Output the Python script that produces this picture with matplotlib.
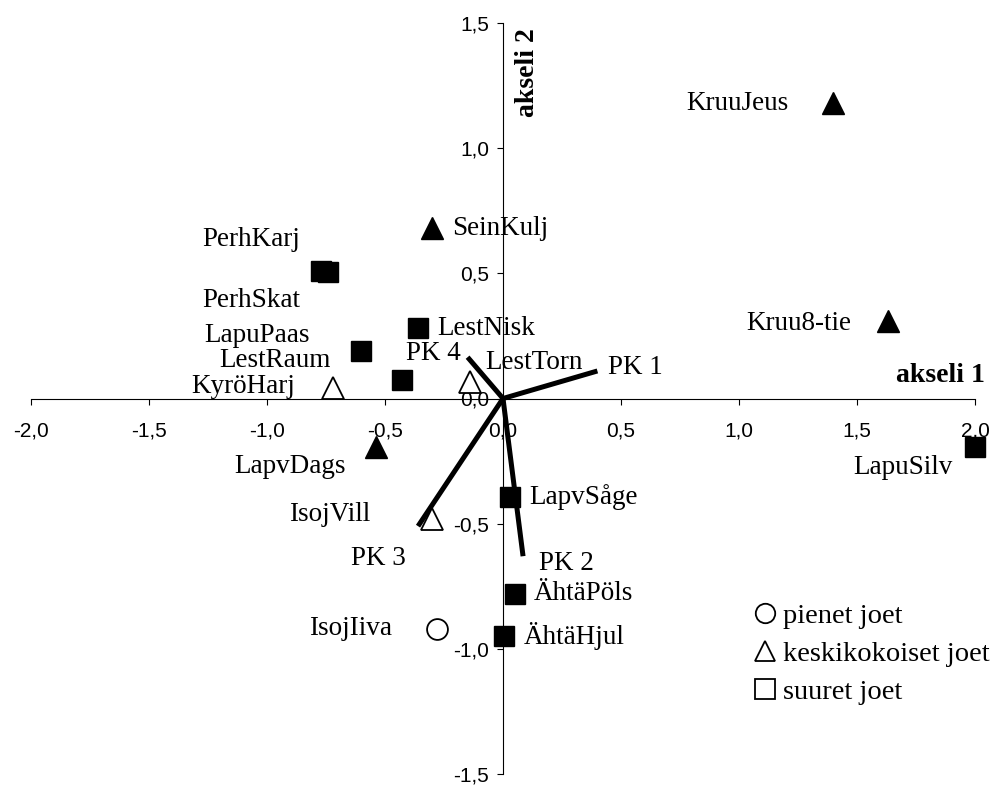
import numpy as np
import matplotlib.pyplot as plt
from matplotlib.lines import Line2D
from matplotlib.ticker import FuncFormatter

# paikat (akseli 1, akseli 2) ja jokikoko
nimet = ["KruuJeus", "Kruu8-tie", "LapuSilv", "SeinKulj", "PerhKarj", "PerhSkat",
         "LapuPaas", "LestRaum", "KyröHarj", "LestNisk", "LestTorn", "LapvDags",
         "IsojVill", "LapvSåge", "ÄhtäPöls", "ÄhtäHjul", "IsojIiva"]
ax1 = [1.40, 1.63, 2.00, -0.30, -0.77, -0.74,
       -0.60, -0.43, -0.72, -0.36, -0.14, -0.54,
       -0.30, 0.03, 0.05, 0.005, -0.28]
ax2 = [1.18, 0.31, -0.195, 0.68, 0.51, 0.505,
       0.19, 0.075, 0.04, 0.28, 0.065, -0.195,
       -0.48, -0.395, -0.78, -0.95, -0.92]
koko = ["keski", "keski", "suuri", "keski", "suuri", "suuri",
        "suuri", "suuri", "keski_o", "suuri", "keski_o", "keski",
        "keski_o", "suuri", "suuri", "suuri", "pieni"]

# paakomponentit
pk_nimet = ["PK 1", "PK 2", "PK 3", "PK 4"]
pk_x = [0.40, 0.085, -0.36, -0.15]
pk_y = [0.11, -0.63, -0.51, 0.165]

# tekstien siirrot pikseleina (dx, dy, ha)
siirto = [(-45, 0, "right"), (-36, -3, "right"), (-72, -20, "center"), (20, 0, "left"),
          (-70, 31, "center"), (-77, -28, "center"), (-52, 15, "right"), (-71, 19, "right"),
          (-38, 2, "right"), (19, 0, "left"), (15, 20, "left"), (-86, -19, "center"),
          (-62, 4, "right"), (19, 0, "left"), (19, 0, "left"), (20, 0, "left"),
          (-45, 0, "right")]
pk_siirto = [(11, 3, "left"), (43, -7, "center"), (-40, -32, "center"), (-7, 4, "right")]

tyyli = {"suuri": dict(marker="s", ms=15, mfc="black", mec="black"),
         "keski": dict(marker="^", ms=16, mfc="black", mec="black"),
         "keski_o": dict(marker="^", ms=16, mfc="white", mec="black", mew=1.3),
         "pieni": dict(marker="o", ms=15, mfc="white", mec="black", mew=1.3)}

serif = "Liberation Serif"
sans = "Liberation Sans"

fig = plt.figure(figsize=(9.95, 7.85), dpi=100)
ax = fig.add_axes([31/995, 11/785, 944/995, 751/785])
ax.set_xlim(-2.0, 2.0)
ax.set_ylim(-1.5, 1.5)

# vektorit
for i in range(len(pk_nimet)):
    ax.plot([0, pk_x[i]], [0, pk_y[i]], color="black", lw=3.6, solid_capstyle="butt", zorder=2)
    dx, dy, ha = pk_siirto[i]
    ax.annotate(pk_nimet[i], (pk_x[i], pk_y[i]), xytext=(dx, dy), textcoords="offset pixels",
                ha=ha, va="center", fontsize=19.5, family=serif)

# pisteet
for i in range(len(nimet)):
    ax.plot(ax1[i], ax2[i], ls="none", zorder=3, clip_on=False, **tyyli[koko[i]])
    dx, dy, ha = siirto[i]
    ax.annotate(nimet[i], (ax1[i], ax2[i]), xytext=(dx, dy), textcoords="offset pixels",
                ha=ha, va="center", fontsize=19.5, family=serif)

# akselit keskelle
ax.spines["top"].set_visible(False)
ax.spines["right"].set_visible(False)
ax.spines["left"].set_position(("data", 0))
ax.spines["bottom"].set_position(("data", 0))
ax.set_xticks(np.arange(-2.0, 2.01, 0.5))
ax.set_yticks(np.arange(-1.5, 1.51, 0.5))
fmt = FuncFormatter(lambda v, p: f"{v:.1f}".replace(".", ",").replace("-0,0", "0,0"))
ax.xaxis.set_major_formatter(fmt)
ax.yaxis.set_major_formatter(fmt)
ax.tick_params(axis="x", direction="out", length=4.5, pad=12, labelsize=15, width=0.8)
ax.tick_params(axis="y", direction="out", length=4, pad=6, labelsize=15, width=0.8)
for t in ax.get_xticklabels() + ax.get_yticklabels():
    t.set_family(sans)

fig.text(985/995, 1 - 375/785, "akseli 1", ha="right", va="center", fontsize=20,
         fontweight="bold", family=serif)
fig.text(527/995, 1 - 73/785, "akseli 2", ha="center", va="center", rotation=90,
         fontsize=20, fontweight="bold", family=serif)

# selite
kahvat = [Line2D([], [], ls="none", marker="o", ms=14, mfc="white", mec="black", mew=1.3),
          Line2D([], [], ls="none", marker="^", ms=14, mfc="white", mec="black", mew=1.3),
          Line2D([], [], ls="none", marker="s", ms=14, mfc="white", mec="black", mew=1.3)]
ax.legend(kahvat, ["pienet joet", "keskikokoiset joet", "suuret joet"], loc="upper left",
          bbox_to_anchor=(737/995, 1 - 589/785), bbox_transform=fig.transFigure,
          frameon=False, prop={"family": serif, "size": 20.5}, handletextpad=0.12,
          handlelength=1.0, labelspacing=0.42, borderpad=0)

fig.savefig("out.png", dpi=100)
